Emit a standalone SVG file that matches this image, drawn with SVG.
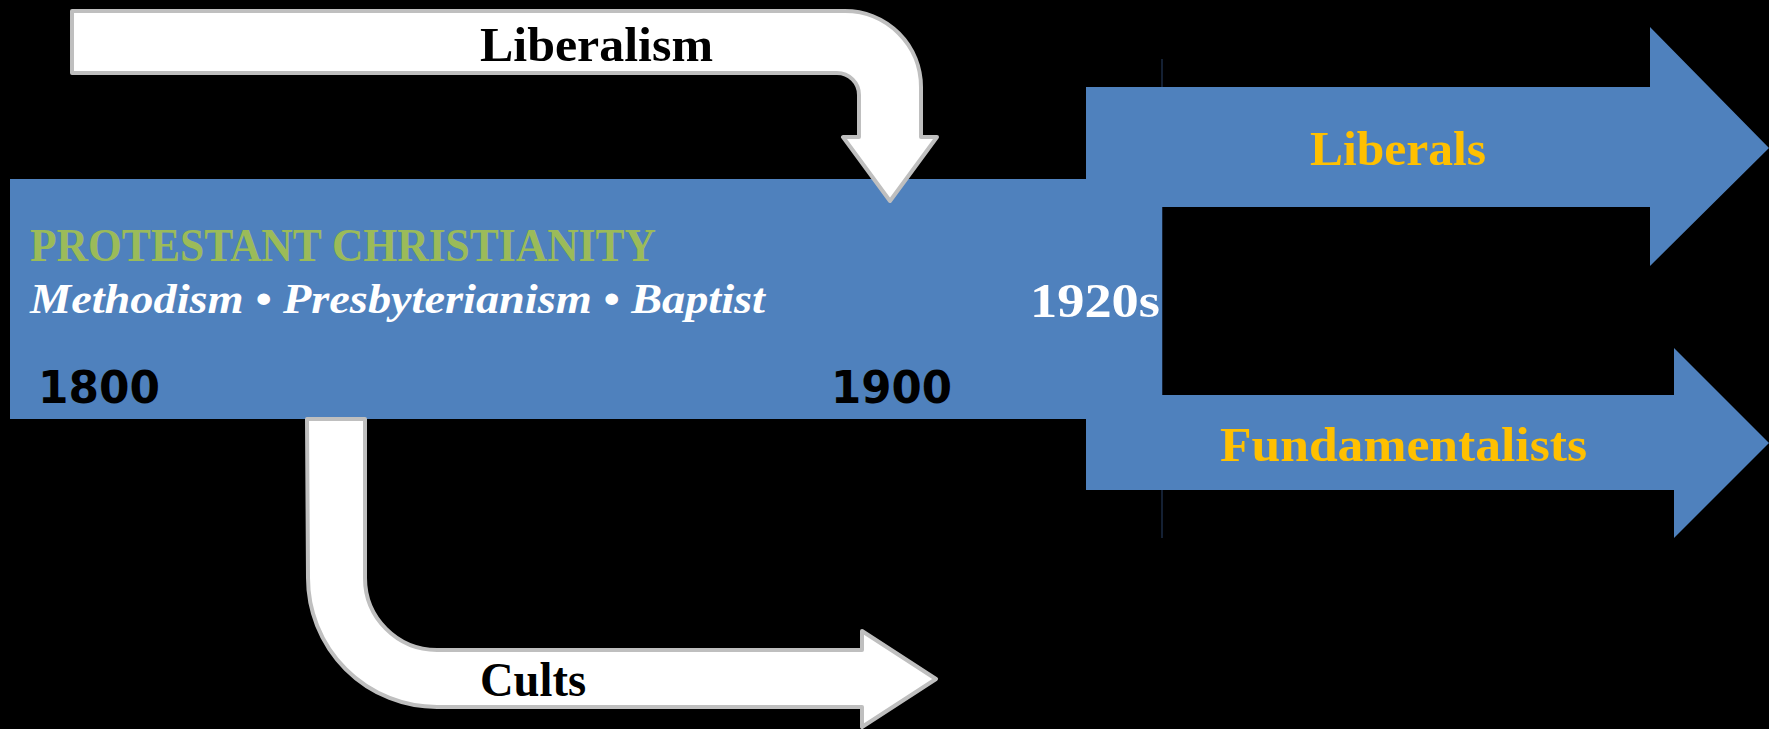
<svg xmlns="http://www.w3.org/2000/svg" width="1769" height="729" viewBox="0 0 1769 729">
<style>
.blue{fill:#4F81BD}
.white{fill:#FFFFFF;stroke:#BFBFBF;stroke-width:4;stroke-linejoin:round}
.serif{font-family:"Liberation Serif","DejaVu Serif",serif}
.lbl{font-family:"Liberation Serif","DejaVu Serif",serif;font-weight:bold;font-size:48px}
.year{font-family:"DejaVu Sans","Liberation Sans",sans-serif;font-weight:bold;font-size:44px;fill:#000}
</style>
<rect x="0" y="0" width="1769" height="729" fill="#000"/>
<line x1="1162" y1="59" x2="1162" y2="538" stroke="#142033" stroke-width="2"/>
<g id="protestant">
<rect class="blue" x="10" y="179" width="1152" height="240"/>
<text class="serif" x="30" y="261" font-size="46" font-weight="bold" fill="#9BBB59" textLength="626" lengthAdjust="spacingAndGlyphs">PROTESTANT CHRISTIANITY</text>
<text class="serif" x="30" y="313" font-size="42" font-style="italic" font-weight="bold" fill="#FFFFFF" textLength="735" lengthAdjust="spacingAndGlyphs">Methodism • Presbyterianism • Baptist</text>
<text class="year" x="38" y="403" textLength="122" lengthAdjust="spacingAndGlyphs">1800</text>
<text class="year" x="831" y="403" textLength="121" lengthAdjust="spacingAndGlyphs">1900</text>
<text class="lbl" x="1030" y="317" font-size="50" fill="#FFFFFF" textLength="130" lengthAdjust="spacingAndGlyphs">1920s</text>
</g>
<g id="connectors">
<g id="liberals">
<path class="blue" d="M1086,87 H1650 V27 L1769,148 L1650,266 V207 H1086 Z"/>
<text class="lbl" x="1310" y="165" fill="#FFC000" textLength="176" lengthAdjust="spacingAndGlyphs">Liberals</text>
</g>
<g id="fundamentalists">
<path class="blue" d="M1086,395 H1674 V348 L1769,443 L1674,538 V490 H1086 Z"/>
<text class="lbl" x="1220" y="461" fill="#FFC000" textLength="367" lengthAdjust="spacingAndGlyphs">Fundamentalists</text>
</g>
<g id="liberalism">
<path class="white" d="M72,11 H845 A76,76 0 0 1 921,87 V137 H937 L890,201 L843,137 H859 V95 A22,22 0 0 0 837,73 H72 Z"/>
<text class="lbl" x="480" y="61" fill="#000" textLength="233" lengthAdjust="spacingAndGlyphs">Liberalism</text>
</g>
<g id="cults">
<path class="white" d="M307,419 H365 V578 A72,72 0 0 0 437,650 H862 V631 L936,679 L862,727 V707 H437 A129,129 0 0 1 308,578 Z"/>
<text class="lbl" x="480" y="696" fill="#000" textLength="106" lengthAdjust="spacingAndGlyphs">Cults</text>
</g>
</g>
</svg>
